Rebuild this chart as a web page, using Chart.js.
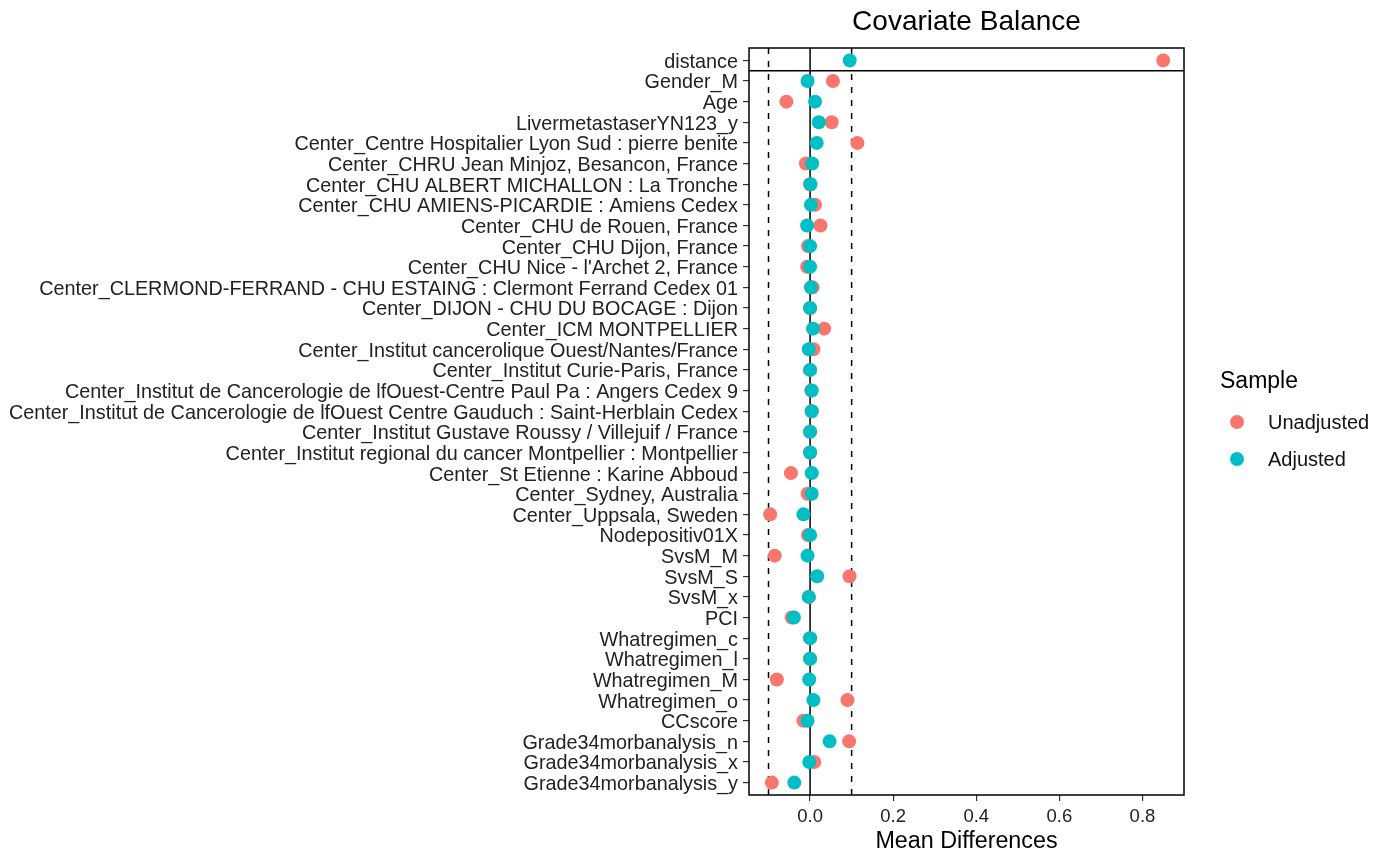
<!DOCTYPE html>
<html>
<head>
<meta charset="utf-8">
<script src="https://cdn.jsdelivr.net/npm/chart.js@4.4.1/dist/chart.umd.min.js"></script>
<style>
  body { margin: 0; background: #fff; }
  #wrap { width: 1391px; height: 858px; position: relative; }
</style>
</head>
<body>
<div id="wrap"><canvas id="grafico"></canvas></div>
<script>
// covariáveis (de cima para baixo)
const covariaveis = [
  "distance", "Gender_M", "Age", "LivermetastaserYN123_y",
  "Center_Centre Hospitalier Lyon Sud : pierre benite",
  "Center_CHRU Jean Minjoz, Besancon, France",
  "Center_CHU ALBERT MICHALLON : La Tronche",
  "Center_CHU AMIENS-PICARDIE : Amiens Cedex",
  "Center_CHU de Rouen, France",
  "Center_CHU Dijon, France",
  "Center_CHU Nice - l'Archet 2, France",
  "Center_CLERMOND-FERRAND - CHU ESTAING : Clermont Ferrand Cedex 01",
  "Center_DIJON - CHU DU BOCAGE : Dijon",
  "Center_ICM MONTPELLIER",
  "Center_Institut cancerolique Ouest/Nantes/France",
  "Center_Institut Curie-Paris, France",
  "Center_Institut de Cancerologie de lfOuest-Centre Paul Pa : Angers Cedex 9",
  "Center_Institut de Cancerologie de lfOuest Centre Gauduch : Saint-Herblain Cedex",
  "Center_Institut Gustave Roussy / Villejuif / France",
  "Center_Institut regional du cancer Montpellier : Montpellier",
  "Center_St Etienne : Karine Abboud",
  "Center_Sydney, Australia",
  "Center_Uppsala, Sweden",
  "Nodepositiv01X", "SvsM_M", "SvsM_S", "SvsM_x", "PCI",
  "Whatregimen_c", "Whatregimen_l", "Whatregimen_M", "Whatregimen_o",
  "CCscore", "Grade34morbanalysis_n", "Grade34morbanalysis_x", "Grade34morbanalysis_y"
];

const naoAjustado = [
  0.850, 0.055, -0.057, 0.052, 0.114, -0.010, 0.000, 0.012, 0.025, -0.005,
  -0.007, 0.006, 0.000, 0.034, 0.008, 0.000, 0.003, 0.004, 0.000, 0.000,
  -0.046, -0.006, -0.096, -0.005, -0.085, 0.095, -0.003, -0.044, 0.000, 0.000,
  -0.080, 0.090, -0.016, 0.094, 0.010, -0.092
];

const ajustado = [
  0.0955, -0.006, 0.012, 0.021, 0.016, 0.005, 0.001, 0.002, -0.007, 0.000,
  0.000, 0.002, 0.000, 0.007, -0.003, 0.000, 0.004, 0.004, 0.000, 0.000,
  0.004, 0.004, -0.016, 0.000, -0.006, 0.017, -0.003, -0.039, 0.000, 0.000,
  -0.002, 0.008, -0.006, 0.047, -0.002, -0.038
];

const ticksX = [0, 0.2, 0.4, 0.6, 0.8];
const limiar = 0.1; // linhas tracejadas em +-0.1

const series = ["Unadjusted", "Adjusted"];
const cores = ["#F8766D", "#00BFC4"];

const fonte = "'Liberation Sans', Arial, sans-serif";

// linhas de referência, borda, título e legenda
const extras = {
  id: "extras",
  beforeDatasetsDraw(chart) {
    const { ctx, chartArea: a, scales } = chart;
    ctx.save();
    ctx.strokeStyle = "#000";
    ctx.lineWidth = 1.5;
    // linha do zero
    let x0 = scales.x.getPixelForValue(0);
    ctx.beginPath(); ctx.moveTo(x0, a.top); ctx.lineTo(x0, a.bottom); ctx.stroke();
    // tracejadas
    ctx.setLineDash([6, 7]);
    [-limiar, limiar].forEach(v => {
      let xp = scales.x.getPixelForValue(v);
      ctx.beginPath(); ctx.moveTo(xp, a.top); ctx.lineTo(xp, a.bottom); ctx.stroke();
    });
    ctx.setLineDash([]);
    // separador abaixo de "distance"
    let ys = scales.y.getPixelForValue(0.5);
    ctx.beginPath(); ctx.moveTo(a.left, ys); ctx.lineTo(a.right, ys); ctx.stroke();
    ctx.restore();
  },
  afterDraw(chart) {
    const { ctx, chartArea: a } = chart;
    ctx.save();
    ctx.strokeStyle = "#000";
    ctx.lineWidth = 1.5;
    ctx.strokeRect(a.left, a.top, a.right - a.left, a.bottom - a.top);

    // título
    ctx.fillStyle = "#000";
    ctx.font = "28px " + fonte;
    ctx.textAlign = "center";
    ctx.textBaseline = "middle";
    ctx.fillText("Covariate Balance", (a.left + a.right) / 2, 22);

    // legenda
    ctx.textAlign = "left";
    ctx.font = "23px " + fonte;
    ctx.fillText("Sample", 1220, 382);
    ctx.font = "20px " + fonte;
    series.forEach((s, i) => {
      let y = 422 + i * 37;
      ctx.fillStyle = cores[i];
      ctx.beginPath(); ctx.arc(1237, y, 7, 0, Math.PI * 2); ctx.fill();
      ctx.fillStyle = "#111";
      ctx.fillText(s, 1268, y + 1);
    });
    ctx.restore();
  }
};

const ctx = document.getElementById("grafico").getContext("2d");

new Chart(ctx, {
  type: "scatter",
  data: {
    datasets: [
      {
        label: series[0],
        data: naoAjustado.map((v, i) => ({ x: v, y: i })),
        backgroundColor: cores[0],
        borderWidth: 0,
        pointRadius: 7,
        order: 1
      },
      {
        label: series[1],
        data: ajustado.map((v, i) => ({ x: v, y: i })),
        backgroundColor: cores[1],
        borderWidth: 0,
        pointRadius: 7,
        order: 0
      }
    ]
  },
  options: {
    responsive: true,
    maintainAspectRatio: false,
    animation: false,
    layout: { padding: { top: 48, right: 207, bottom: 0, left: 0 } },
    plugins: {
      legend: { display: false },
      tooltip: { enabled: false }
    },
    scales: {
      x: {
        type: "linear",
        min: -0.147,
        max: 0.9,
        afterBuildTicks: s => { s.ticks = ticksX.map(v => ({ value: v })); },
        afterFit: s => { s.height = 63; },
        border: { display: false },
        grid: { drawOnChartArea: false, tickLength: 6, color: "#333", lineWidth: 1.2 },
        ticks: {
          color: "#222",
          font: { family: fonte, size: 18.5 },
          padding: 5,
          callback: v => v.toFixed(1)
        },
        title: {
          display: true,
          text: "Mean Differences",
          color: "#000",
          font: { family: fonte, size: 23.3 },
          padding: { top: 0, bottom: 2 }
        }
      },
      y: {
        type: "linear",
        min: -0.6,
        max: 35.6,
        reverse: true,
        afterBuildTicks: s => { s.ticks = covariaveis.map((c, i) => ({ value: i })); },
        afterFit: s => { s.width = 749; },
        border: { display: false },
        grid: { drawOnChartArea: false, tickLength: 6, color: "#333", lineWidth: 1.2 },
        ticks: {
          autoSkip: false,
          color: "#222",
          font: { family: fonte, size: 19.8, lineHeight: 1 },
          padding: 5,
          labelOffset: 2,
          callback: v => covariaveis[v]
        }
      }
    }
  },
  plugins: [extras]
});
</script>
</body>
</html>
